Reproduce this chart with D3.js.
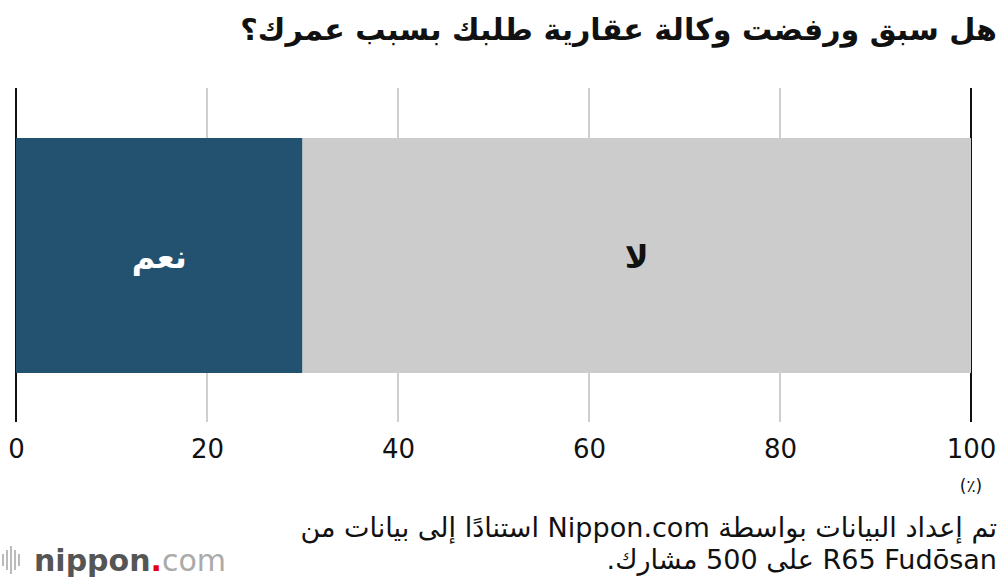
<!DOCTYPE html>
<html>
<head>
<meta charset="utf-8">
<script src="https://cdn.jsdelivr.net/npm/d3@7"></script>
<style>
  body { margin: 0; background: #fff; }
  text { font-family: "DejaVu Sans", "Noto Sans", sans-serif; }
</style>
</head>
<body>
<svg width="1000" height="582"></svg>
<script>
const answers = ['نعم', 'لا'];
const shares = [30, 70];
const tickValues = [0, 20, 40, 60, 80, 100];

const svg = d3.select('svg');
const colors = ['#225270', '#cccccc'];
const labelColors = ['#ffffff', '#111111'];

const x = d3.scaleLinear().domain([0, 100]).range([16, 971]);
const y = d3.scaleBand().domain(['bar']).range([138, 373]);

// shrink a text until it fits the width seen in the reference
function fit(sel, w) {
  const n = sel.node();
  let fs = +sel.attr('font-size');
  const len = n.getComputedTextLength();
  if (len > 0) sel.attr('font-size', fs * w / len);
}

// title
const title = svg.append('text')
  .attr('x', 997).attr('y', 40)
  .attr('text-anchor', 'start')
  .attr('direction', 'rtl')
  .attr('font-size', 28)
  .attr('font-weight', 'bold')
  .attr('fill', '#111')
  .text('هل سبق ورفضت وكالة عقارية طلبك بسبب عمرك؟');
fit(title, 757);

// grid
svg.append('g').selectAll('line')
  .data(tickValues)
  .join('line')
  .attr('x1', d => x(d)).attr('x2', d => x(d))
  .attr('y1', 88).attr('y2', 422)
  .attr('stroke', d => (d === 0 || d === 100) ? '#111' : '#cfcfcf')
  .attr('stroke-width', 2);

// stacked bar
const stack = shares.map((v, i) => ({
  name: answers[i], v, start: d3.sum(shares.slice(0, i))
}));

svg.append('g').selectAll('rect')
  .data(stack)
  .join('rect')
  .attr('x', d => x(d.start))
  .attr('width', d => x(d.start + d.v) - x(d.start))
  .attr('y', y('bar'))
  .attr('height', y.bandwidth())
  .attr('fill', (d, i) => colors[i]);

svg.append('g').selectAll('text')
  .data(stack)
  .join('text')
  .attr('x', d => x(d.start + d.v / 2))
  .attr('y', y('bar') + y.bandwidth() / 2 + 12)
  .attr('text-anchor', 'middle')
  .attr('font-size', 32)
  .attr('font-weight', 'bold')
  .attr('fill', (d, i) => labelColors[i])
  .text(d => d.name);

// axis labels
const axis = d3.axisBottom(x).tickValues(tickValues).tickSize(0).tickPadding(0);
const ax = svg.append('g').attr('transform', 'translate(0,439)').call(axis);
ax.select('.domain').remove();
ax.selectAll('text')
  .attr('font-family', '"Liberation Sans", sans-serif')
  .attr('font-size', 26)
  .attr('fill', '#111')
  .attr('dy', '0.72em');

svg.append('text')
  .attr('x', x(100)).attr('y', 492)
  .attr('text-anchor', 'middle')
  .attr('font-size', 17)
  .attr('fill', '#111')
  .text('(٪)');

// source
const src = svg.append('text')
  .attr('text-anchor', 'start')
  .attr('direction', 'rtl')
  .attr('font-size', 20)
  .attr('fill', '#111');
const l1 = src.append('tspan').attr('x', 997).attr('y', 537)
  .text('تم إعداد البيانات بواسطة Nippon.com استنادًا إلى بيانات من');
src.append('tspan').attr('x', 997).attr('y', 569)
  .text('R65 Fudōsan على 500 مشارك.');
const w1 = l1.node().getComputedTextLength();
if (w1 > 0) src.attr('font-size', 20 * 697 / w1);

// logo
const logo = svg.append('g').attr('transform', 'translate(2,544)');
const bars = [[0, 10, 12], [4, 6, 20], [8, 2, 28], [12, 6, 20], [16, 10, 12]];
logo.selectAll('rect').data(bars).join('rect')
  .attr('x', d => d[0]).attr('y', d => d[1])
  .attr('width', 2).attr('height', d => d[2])
  .attr('fill', '#bbb');
const lt = logo.append('text').attr('x', 32).attr('y', 27).attr('font-size', 30);
lt.append('tspan').attr('fill', '#555').attr('font-weight', 'bold').text('nippon');
lt.append('tspan').attr('fill', '#e60012').attr('font-weight', 'bold').text('.');
lt.append('tspan').attr('fill', '#aaa').text('com');
</script>
</body>
</html>
